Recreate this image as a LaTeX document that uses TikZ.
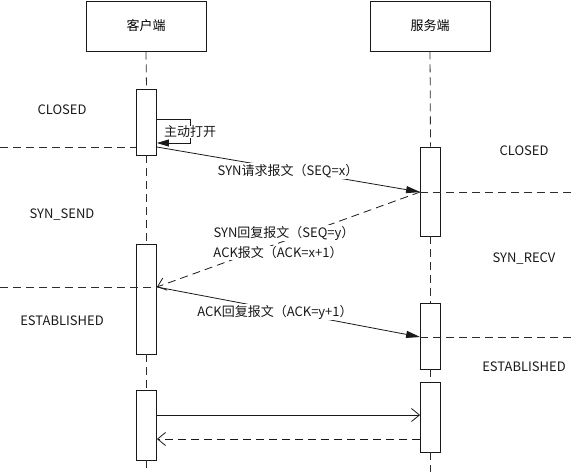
\documentclass[tikz,border=0pt]{standalone}
\usepackage{fontspec}
\setmainfont{Noto Sans CJK SC}
\usepackage{tikz}
\usetikzlibrary{arrows.meta,positioning}
\definecolor{ink}{RGB}{25,25,25}
\definecolor{gline}{RGB}{45,45,45}

\begin{document}
\begin{tikzpicture}[
  x=1pt, y=-1pt,
  font=\fontsize{13}{15}\selectfont,
  line width=0.8pt,
  role/.style={draw=ink, minimum width=120pt, minimum height=50pt, inner sep=0pt},
  act/.style={draw=ink, fill=white, minimum width=20pt, inner sep=0pt},
  life/.style={draw=gline, dash pattern=on 8pt off 5pt},
  sync/.style={draw=ink, -{Triangle[length=14pt,width=7pt]}},
  ret/.style={draw=ink, -{Straight Barb[length=8pt,width=13pt]}},
  msg/.style={fill=white, inner sep=1pt, text=ink},
  state/.style={text=ink}
]
\useasboundingbox (0,0) rectangle (585,472);

\node[role] (client) at (146,26) {客户端};
\node[role] (server) at (430,26) {服务端};

% activations
\node[act, minimum height=66pt] (c1) at (146.5,122) {};
\node[act, minimum height=110pt] (c2) at (146.5,299) {};
\node[act, minimum height=70pt] (c3) at (146.5,425) {};
\node[act, minimum height=89pt] (s1) at (430.5,191.5) {};
\node[act, minimum height=66pt] (s2) at (430.5,336) {};
\node[act, minimum height=70pt] (s3) at (430.5,417) {};

\coordinate (cend) at (146.5,472);
\coordinate (send) at (430.5,472);

% lifelines
\draw[life] (client.south) -- (c1.north);
\draw[life] (c1.south) -- (c2.north);
\draw[life] (c2.south) -- (c3.north);
\draw[life] (c3.south) -- (cend);
\draw[life] (server.south) -- (s1.north);
\draw[life] (s1.south) -- (s2.north);
\draw[life] (s2.south) -- (s3.north);
\draw[life] (s3.south) -- (send);

% states
\node[state] (cclosed) at (62,110) {CLOSED};
\node[state] (csend) at (62,215) {SYN\_SEND};
\node[state] (cest) at (62,321) {ESTABLISHED};
\node[state] (sclosed) at (524,151) {CLOSED};
\node[state] (srecv) at (524,259) {SYN\_RECV};
\node[state] (sest) at (524,367) {ESTABLISHED};

% self open
\coordinate (selfa) at (190,119);
\coordinate (selfb) at (190,143);
\draw[sync, -{Triangle[length=12pt,width=7pt]}] (c1.east |- selfa) -- (selfa) -- (selfb) -- (c1.east |- selfb);
\node[msg, inner sep=0pt] (open) at (190,132) {主动打开};

% handshake
\coordinate (lc1) at (0,147);
\coordinate (rs1) at (572,192);
\coordinate (lc2) at (0,287);
\coordinate (rs2) at (575,337);
\draw[life] (lc1) -- (c1.west |- lc1);
\draw[sync] (c1.east |- lc1) -- (s1.west |- rs1);
\draw[life] (s1.west |- rs1) -- (rs1);
\draw[life, ret] (s1.west |- rs1) -- (c2.east |- lc2);
\draw[life] (lc2) -- (c2.east |- lc2);
\draw[sync] (c2.east |- lc2) -- (s2.west |- rs2);
\draw[life] (s2.west |- rs2) -- (rs2);

\node[msg] (syn) at (288,171) {SYN请求报文（SEQ=x）};
\node[msg] (synack) at (284,233) {SYN回复报文（SEQ=y）};
\node[msg] (ack1) at (278,253) {ACK报文（ACK=x+1）};
\node[msg] (ack2) at (275,312) {ACK回复报文（ACK=y+1）};

% data
\coordinate (d1) at (0,415);
\coordinate (d2) at (0,439);
\draw[ret] (c3.east |- d1) -- (s3.west |- d1);
\draw[life, ret] (s3.west |- d2) -- (c3.east |- d2);
\end{tikzpicture}
\end{document}
